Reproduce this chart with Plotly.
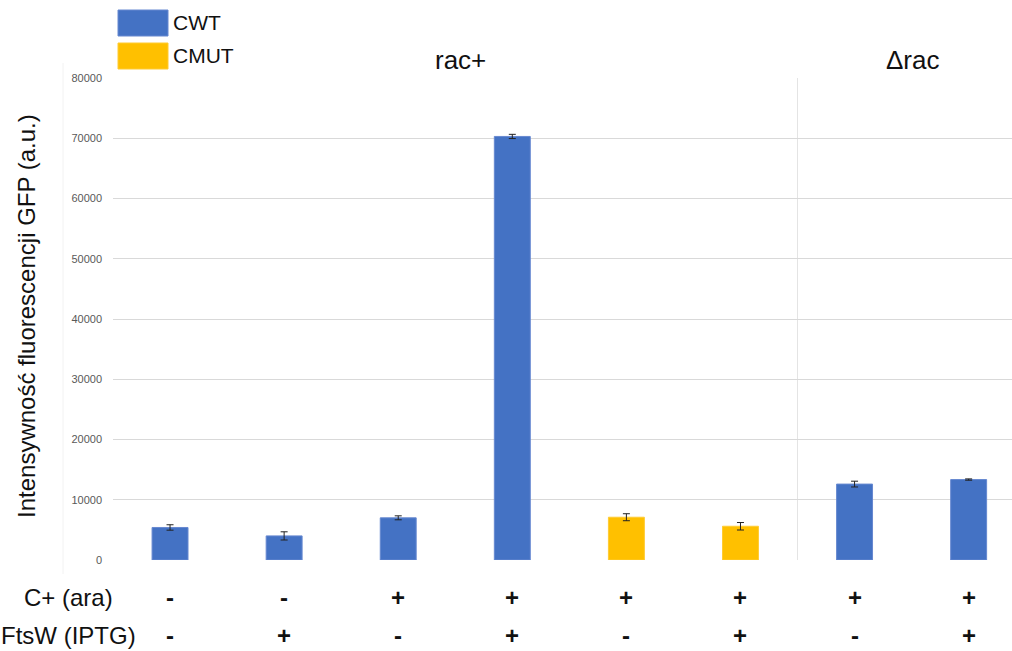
import plotly.graph_objects as go

# ---- data ----
categories = ["1", "2", "3", "4", "5", "6", "7", "8"]
series_names = ["CWT", "CMUT"]
group = ["CWT", "CWT", "CWT", "CWT", "CMUT", "CMUT", "CWT", "CWT"]
values = [5400, 4000, 7000, 70300, 7100, 5600, 12600, 13350]
errors = [450, 680, 330, 350, 580, 620, 480, 110]
row_labels = ["C+ (ara)", "FtsW (IPTG)"]
c_ara = ["-", "-", "+", "+", "+", "+", "+", "+"]
ftsw_iptg = ["-", "+", "-", "+", "-", "+", "-", "+"]
panel_labels = ["rac+", "\u0394rac"]
y_ticks = [0, 10000, 20000, 30000, 40000, 50000, 60000, 70000, 80000]
y_title = "Intensywno\u015b\u0107 fluorescencji GFP (a.u.)"

colors = {"CWT": "#4472C4", "CMUT": "#FFC000"}
edge = {"CWT": "#6688D0", "CMUT": "#FFCB33"}
FONT = "Arial, 'Liberation Sans', sans-serif"

W, H = 1012, 651
L, R, T, B = 113, 0, 78, 91
PW, PH = W - L - R, H - T - B


def px(xp):
    return (xp - L) / PW


def py(yp):
    return (H - B - yp) / PH


fig = go.Figure()
xs = list(range(len(categories)))
for name in series_names:
    idx = [i for i, g in enumerate(group) if g == name]
    fig.add_trace(go.Bar(
        x=[xs[i] for i in idx],
        y=[values[i] for i in idx],
        name=name,
        width=0.315,
        marker=dict(color=colors[name], line=dict(color=edge[name], width=1)),
        error_y=dict(type="data", array=[errors[i] for i in idx],
                     color="#222222", thickness=1, width=3.5, visible=True),
        showlegend=False,
    ))

shapes = []
# separator between rac+ and Δrac
shapes.append(dict(type="line", xref="x", yref="y", x0=5.5, x1=5.5, y0=0, y1=80000,
                   line=dict(color="#E4E4E4", width=1), layer="below"))
# faint panel border
shapes.append(dict(type="line", xref="paper", yref="paper", x0=px(63), x1=px(63),
                   y0=py(63), y1=py(574), line=dict(color="#F2F2F2", width=1)))
# legend swatches
for k, name in enumerate(series_names):
    y0p = 10 + k * 33
    shapes.append(dict(type="rect", xref="paper", yref="paper",
                       x0=px(118), x1=px(168), y0=py(y0p + 26), y1=py(y0p),
                       fillcolor=colors[name], line=dict(color=edge[name], width=1)))

annotations = []
for k, name in enumerate(series_names):
    annotations.append(dict(text=name, xref="paper", yref="paper", x=px(171), y=py(23 + k * 33),
                            xanchor="left", yanchor="middle", showarrow=False,
                            font=dict(family=FONT, size=21, color="#111111")))
# panel labels
annotations.append(dict(text=panel_labels[0], xref="paper", yref="paper", x=px(460), y=py(60),
                        xanchor="center", yanchor="middle", showarrow=False,
                        font=dict(family=FONT, size=26, color="#111111")))
annotations.append(dict(text=panel_labels[1], xref="paper", yref="paper", x=px(913), y=py(60),
                        xanchor="center", yanchor="middle", showarrow=False,
                        font=dict(family=FONT, size=26, color="#111111")))
# y title
annotations.append(dict(text=y_title, xref="paper", yref="paper", x=px(26), y=py(316),
                        xanchor="center", yanchor="middle", textangle=-90, showarrow=False,
                        font=dict(family=FONT, size=24, color="#111111")))
# row labels
row_y = [597, 635]
for lab, yy in zip(row_labels, row_y):
    annotations.append(dict(text=lab, xref="paper", yref="paper", x=px(68), y=py(yy),
                            xanchor="center", yanchor="middle", showarrow=False,
                            font=dict(family=FONT, size=24, color="#111111")))
for row, yy in zip([c_ara, ftsw_iptg], row_y):
    for i, s in enumerate(row):
        annotations.append(dict(text="<b>%s</b>" % s, xref="x", yref="paper", x=xs[i], y=py(yy),
                                xanchor="center", yanchor="middle", showarrow=False,
                                font=dict(family=FONT, size=24, color="#111111")))

fig.update_layout(
    width=W, height=H,
    margin=dict(l=L, r=R, t=T, b=B, pad=0),
    paper_bgcolor="white", plot_bgcolor="white",
    barmode="overlay",
    showlegend=False,
    shapes=shapes,
    annotations=annotations,
    xaxis=dict(range=[-0.5, 7.38], showticklabels=False, showgrid=False, zeroline=False,
               ticks="", showline=False, fixedrange=True),
    yaxis=dict(range=[0, 80000], tickvals=y_ticks, ticktext=[str(v) for v in y_ticks],
               showgrid=True, gridcolor="#D9D9D9", gridwidth=1, zeroline=False,
               showline=False, ticks="", ticklabelstandoff=10,
               tickfont=dict(family=FONT, size=11, color="#595959")),
)

fig.write_html("out.html")
